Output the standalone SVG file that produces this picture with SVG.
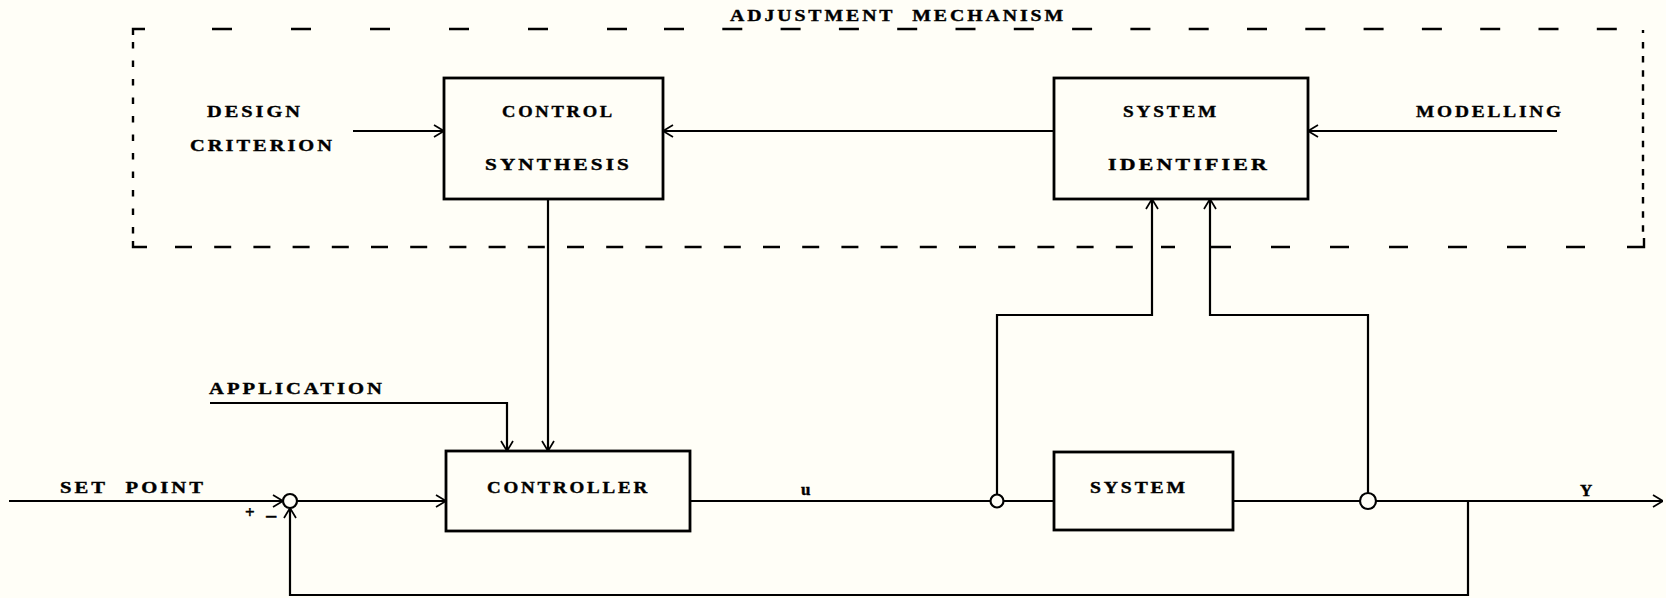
<svg xmlns="http://www.w3.org/2000/svg" width="1666" height="598" viewBox="0 0 1666 598">
<style>
.bg{fill:#fffef7}
.box{fill:none;stroke:#000;stroke-width:2.8}
.ln{fill:none;stroke:#000;stroke-width:2.2}
.dash{fill:none;stroke:#000;stroke-width:2.4}
.t{font-family:"Liberation Serif",serif;font-weight:bold;font-size:17px;letter-spacing:2.5px;word-spacing:8px;fill:#000;stroke:#000;stroke-width:0.4}
.j{fill:#fffef7;stroke:#000;stroke-width:2.2}
</style>
<defs>
<marker id="a" viewBox="0 0 11 14" refX="11" refY="7" markerWidth="11" markerHeight="14" orient="auto" markerUnits="userSpaceOnUse">
<path d="M1,1 L11,7 L1,13" fill="none" stroke="#000" stroke-width="1.7"/>
</marker>
</defs>
<rect class="bg" x="0" y="0" width="1666" height="598"/>

<g id="adjustment-mechanism">
<text class="t" x="730" y="21" textLength="336" lengthAdjust="spacingAndGlyphs">ADJUSTMENT MECHANISM</text>
<path class="dash" d="M145,29 H133 V35"/>
<path class="dash" d="M212,29 H627" stroke-dasharray="20 59"/>
<path class="dash" d="M664,29 H1617" stroke-dasharray="20 38.3"/>
<path class="dash" d="M1643,30 V33"/>
<path class="dash" d="M133,42 V236" stroke-dasharray="6.5 12"/>
<path class="dash" d="M1643,42 V234" stroke-dasharray="6.5 7.6"/>
<path class="dash" d="M133,241 V247 H147"/>
<path class="dash" d="M175,247 H1145" stroke-dasharray="17 22.2"/>
<path class="dash" d="M1161,247 H1175 M1211,247 H1231"/>
<path class="dash" d="M1271,247 H1600" stroke-dasharray="19 40"/>
<path class="dash" d="M1627,247 H1644 V238"/>
</g>

<g id="design-criterion">
<text class="t" x="207" y="117" textLength="96" lengthAdjust="spacingAndGlyphs">DESIGN</text>
<text class="t" x="190" y="151" textLength="145" lengthAdjust="spacingAndGlyphs">CRITERION</text>
</g>

<g id="control-synthesis">
<rect class="box" x="444" y="78" width="219" height="121"/>
<text class="t" x="502" y="117" textLength="113" lengthAdjust="spacingAndGlyphs">CONTROL</text>
<text class="t" x="485" y="170" textLength="147" lengthAdjust="spacingAndGlyphs">SYNTHESIS</text>
</g>

<g id="system-identifier">
<rect class="box" x="1054" y="78" width="254" height="121"/>
<text class="t" x="1123" y="117" textLength="96" lengthAdjust="spacingAndGlyphs">SYSTEM</text>
<text class="t" x="1108" y="170" textLength="162" lengthAdjust="spacingAndGlyphs">IDENTIFIER</text>
</g>

<g id="modelling">
<text class="t" x="1416" y="117" textLength="148" lengthAdjust="spacingAndGlyphs">MODELLING</text>
</g>

<g id="application">
<text class="t" x="209" y="394" textLength="176" lengthAdjust="spacingAndGlyphs">APPLICATION</text>
</g>

<g id="set-point">
<text class="t" x="60" y="493" textLength="146" lengthAdjust="spacingAndGlyphs">SET POINT</text>
</g>

<g id="summing-junction">
<circle class="j" cx="290" cy="501" r="7"/>
<text class="t" x="245" y="518">+</text>
<text class="t" x="265" y="524" style="font-size:22px">−</text>
</g>

<g id="controller">
<rect class="box" x="446" y="451" width="244" height="80"/>
<text class="t" x="487" y="493" textLength="163" lengthAdjust="spacingAndGlyphs">CONTROLLER</text>
</g>

<g id="u-label">
<text class="t" x="801" y="495">u</text>
</g>

<g id="input-junction">
<circle class="j" cx="997" cy="501" r="6.5"/>
</g>

<g id="system">
<rect class="box" x="1054" y="452" width="179" height="78"/>
<text class="t" x="1090" y="493" textLength="98" lengthAdjust="spacingAndGlyphs">SYSTEM</text>
</g>

<g id="output-junction">
<circle class="j" cx="1368" cy="501" r="8"/>
</g>

<g id="y-label">
<text class="t" x="1580" y="496">Y</text>
</g>

<g id="connectors">
<path class="ln" d="M353,131 H444" marker-end="url(#a)"/>
<path class="ln" d="M1054,131 H663" marker-end="url(#a)"/>
<path class="ln" d="M1557,131 H1308" marker-end="url(#a)"/>
<path class="ln" d="M548,199 V451" marker-end="url(#a)"/>
<path class="ln" d="M210,403 H507 V451" marker-end="url(#a)"/>
<path class="ln" d="M9,501 H283" marker-end="url(#a)"/>
<path class="ln" d="M297,501 H446" marker-end="url(#a)"/>
<path class="ln" d="M690,501 H990.5"/>
<path class="ln" d="M1003.5,501 H1054"/>
<path class="ln" d="M1233,501 H1360"/>
<path class="ln" d="M1376,501 H1663" marker-end="url(#a)"/>
<path class="ln" d="M997,494.5 V315 H1152 V199" marker-end="url(#a)"/>
<path class="ln" d="M1368,493 V315 H1210 V199" marker-end="url(#a)"/>
<path class="ln" d="M1468,501 V595 H290 V508" marker-end="url(#a)"/>
</g>
</svg>
